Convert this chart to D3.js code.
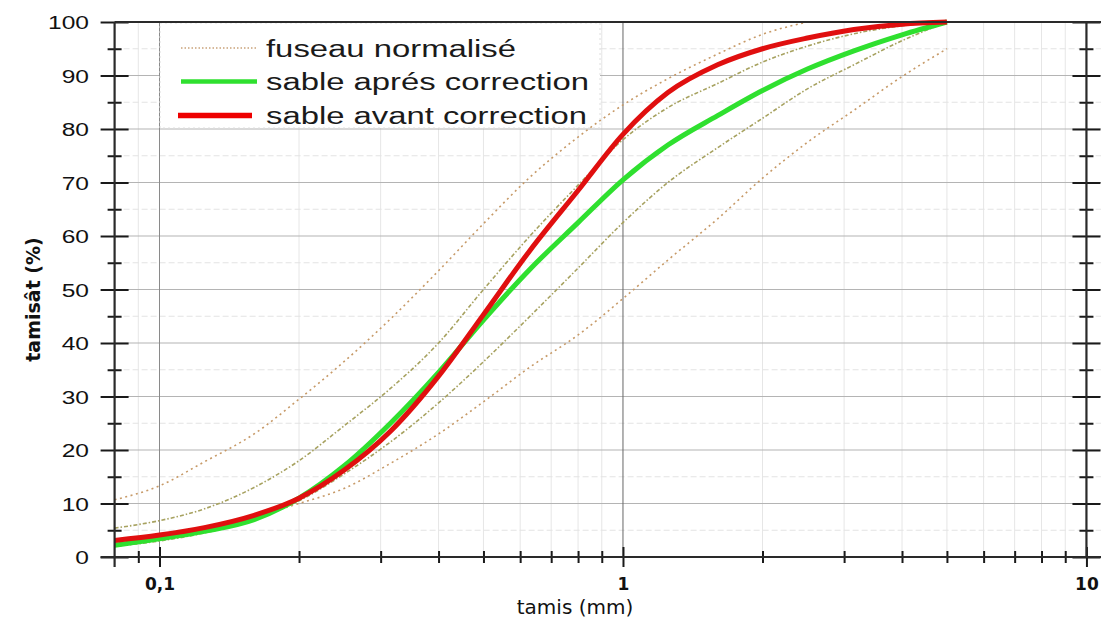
<!DOCTYPE html>
<html>
<head>
<meta charset="utf-8">
<script src="https://cdn.jsdelivr.net/npm/d3@7"></script>
<style>
  html, body { margin: 0; padding: 0; background: #fff; }
  svg { display: block; }
</style>
</head>
<body>
<div id="chart"></div>
<script>
// Sieve openings (mm)
const sieves = [0.08, 0.1, 0.125, 0.16, 0.2, 0.25, 0.315, 0.4, 0.5, 0.63, 0.8, 1, 1.25, 1.6, 2, 2.5, 3.15, 4, 5];

// Passing (%), one value per sieve (null = not drawn)
const sableAvant  = [3.1, 4.1, 5.5, 7.8, 11, 16.2, 23.5, 33.8, 45.3, 57.3, 68.5, 79, 86.8, 92, 95, 97, 98.6, 99.6, 100];
const sableApres  = [2.2, 3.4, 4.8, 7.0, 11, 17, 25, 34.5, 44.3, 53.8, 62.5, 70.5, 77, 82.5, 87.2, 91.2, 94.6, 97.6, 100];
const fuseauSup1  = [10.7, 13.3, 17.8, 23, 29.5, 36.5, 44.5, 53.5, 62.3, 71, 78.5, 84.5, 89.4, 94, 97.7, 100, null, null, null];
const fuseauSup2  = [5.4, 6.8, 9, 13, 18, 24.5, 31.5, 40, 50, 60, 69.5, 78, 84, 88.5, 92.5, 95.5, 97.8, 99.3, 100];
const fuseauInf1  = [2, 3, 4.5, 7, 10.5, 15.5, 21.5, 28.8, 36.5, 45, 54, 62.5, 70, 76.5, 82, 87.5, 92, 96.5, 100];
const fuseauInf2  = [null, null, null, 7.6, 10, 12.8, 17.5, 23, 29, 35.5, 41.5, 48.3, 55.5, 63.2, 70.8, 77.5, 83.5, 89.8, 95];

// Axis ticks and labels
const yMajor = d3.range(0, 101, 10);
const yMinor = d3.range(5, 100, 10);
const xMajor = [0.1, 1, 10];
const xMajorLabels = ["0,1", "1", "10"];
const xMinor = [0.09, 0.2, 0.3, 0.4, 0.5, 0.6, 0.7, 0.8, 0.9, 2, 3, 4, 5, 6, 7, 8, 9];

const legendLabels = ["fuseau normalisé", "sable aprés correction", "sable avant correction"];

// Dimensions
const width = 1105;
const height = 625;

const svg = d3.select("#chart")
    .append("svg")
    .attr("width", width)
    .attr("height", height);

// Scales
const xScale = d3.scaleLog()
    .domain([0.08, 10.75])
    .range([114.6, 1101]);

const yScale = d3.scaleLinear()
    .domain([0, 100])
    .range([557, 22]);

const [xLeft, xRight] = xScale.range();
const [yBottom, yTop] = yScale.range();

// Gridlines
const gGrid = svg.append("g").attr("class", "grid");

gGrid.selectAll("line.vminor")
    .data(xMinor)
    .join("line")
    .attr("class", "vminor")
    .attr("x1", d => xScale(d)).attr("x2", d => xScale(d))
    .attr("y1", yTop).attr("y2", yBottom)
    .attr("stroke", "#e6e6e6")
    .attr("stroke-width", 1);

gGrid.selectAll("line.hminor")
    .data(yMinor)
    .join("line")
    .attr("class", "hminor")
    .attr("x1", xLeft).attr("x2", xRight)
    .attr("y1", d => yScale(d)).attr("y2", d => yScale(d))
    .attr("stroke", "#e3e3e3")
    .attr("stroke-dasharray", "6,3")
    .attr("stroke-width", 1);

gGrid.selectAll("line.hmajor")
    .data(yMajor.slice(1, -1))
    .join("line")
    .attr("class", "hmajor")
    .attr("x1", xLeft).attr("x2", xRight)
    .attr("y1", d => yScale(d)).attr("y2", d => yScale(d))
    .attr("stroke", "#b4b4b4")
    .attr("stroke-width", 1.2);

gGrid.selectAll("line.vmajor")
    .data(xMajor.slice(0, 2))
    .join("line")
    .attr("class", "vmajor")
    .attr("x1", d => xScale(d)).attr("x2", d => xScale(d))
    .attr("y1", yTop).attr("y2", yBottom)
    .attr("stroke", (d, i) => i === 1 ? "#666" : "#8a8a8a")
    .attr("stroke-width", 1);

// Legend background
const gLegendBg = svg.append("g");
gLegendBg.append("rect")
    .attr("x", 160).attr("y", 23)
    .attr("width", 440).attr("height", 105)
    .attr("fill", "#fff")
    .attr("stroke", "#dedede")
    .attr("stroke-dasharray", "2,3");

// Line generator
const line = d3.line()
    .defined(d => d.v != null)
    .x(d => xScale(d.x))
    .y(d => yScale(d.v))
    .curve(d3.curveMonotoneX);

const toPoints = arr => sieves.map((x, i) => ({ x: x, v: arr[i] }));

const fuseau = [
    { id: "sup1", values: fuseauSup1, color: "#c79a68", dash: "2,3.5" },
    { id: "sup2", values: fuseauSup2, color: "#a7a260", dash: "4,2,1.5,2" },
    { id: "inf1", values: fuseauInf1, color: "#a7a260", dash: "4,2,1.5,2" },
    { id: "inf2", values: fuseauInf2, color: "#c79a68", dash: "2,3.5" }
];

const gChart = svg.append("g").attr("class", "chart");

gChart.selectAll("path.fuseau")
    .data(fuseau, d => d.id)
    .join("path")
    .attr("class", "fuseau")
    .attr("fill", "none")
    .attr("stroke", d => d.color)
    .attr("stroke-width", 1.6)
    .attr("stroke-dasharray", d => d.dash)
    .attr("d", d => line(toPoints(d.values)));

const sables = [
    { id: "apres", values: sableApres, color: "#2fe02f" },
    { id: "avant", values: sableAvant, color: "#e00f0f" }
];

gChart.selectAll("path.sable")
    .data(sables, d => d.id)
    .join("path")
    .attr("class", "sable")
    .attr("fill", "none")
    .attr("stroke", d => d.color)
    .attr("stroke-width", 5)
    .attr("stroke-linejoin", "round")
    .attr("d", d => line(toPoints(d.values)));

// Axes
const axisColor = "#1a1a1a";
const gAxes = svg.append("g").attr("class", "axes");

function crossTicks(g, attr, len) {
    g.select(".domain").remove();
    g.selectAll(".tick line")
        .attr(attr, len)
        .attr("stroke", axisColor)
        .attr("stroke-width", 2);
}

// stretch text horizontally (the reference is a wide picture)
function stretch(sel, sx) {
    sel.each(function () {
        const x = +this.getAttribute("x") || 0;
        d3.select(this).attr("transform", `translate(${x * (1 - sx)},0) scale(${sx},1)`);
    });
}

// left axis
const gYLeft = gAxes.append("g").attr("transform", `translate(${xLeft},0)`);
gYLeft.call(d3.axisLeft(yScale).tickValues(yMajor).tickSize(14).tickPadding(11.6));
crossTicks(gYLeft, "x1", 14);
gYLeft.selectAll("text")
    .attr("font-family", "'Liberation Sans', Arial, sans-serif")
    .attr("font-size", 18.6)
    .attr("fill", "#111")
    .attr("dy", "0.36em")
    .call(stretch, 1.32);

const gYLeftMinor = gAxes.append("g").attr("transform", `translate(${xLeft},0)`);
gYLeftMinor.call(d3.axisLeft(yScale).tickValues(yMinor).tickSize(7).tickFormat(""));
crossTicks(gYLeftMinor, "x1", 7);

// right axis (at 10 mm)
const gYRight = gAxes.append("g").attr("transform", `translate(${xScale(10)},0)`);
gYRight.call(d3.axisRight(yScale).tickValues(yMajor).tickSize(14).tickFormat(""));
crossTicks(gYRight, "x1", -14);

const gYRightMinor = gAxes.append("g").attr("transform", `translate(${xScale(10)},0)`);
gYRightMinor.call(d3.axisRight(yScale).tickValues(yMinor).tickSize(7).tickFormat(""));
crossTicks(gYRightMinor, "x1", -7);

// bottom axis
const gX = gAxes.append("g").attr("transform", `translate(0,${yBottom})`);
gX.call(d3.axisBottom(xScale)
    .tickValues(xMajor)
    .tickFormat((d, i) => xMajorLabels[i])
    .tickSize(10)
    .tickPadding(11));
crossTicks(gX, "y1", -10);
gX.selectAll("text")
    .attr("font-family", "'DejaVu Sans', sans-serif")
    .attr("font-weight", "bold")
    .attr("font-size", 17)
    .attr("fill", "#111");

const gXMinor = gAxes.append("g").attr("transform", `translate(0,${yBottom})`);
gXMinor.call(d3.axisBottom(xScale).tickValues(xMinor).tickSize(6).tickFormat(""));
crossTicks(gXMinor, "y1", -6);

// axis lines / frame
const frame = [
    { x1: xLeft, x2: xRight, y1: yTop, y2: yTop },
    { x1: xLeft - 14, x2: xRight, y1: yBottom, y2: yBottom },
    { x1: xLeft, x2: xLeft, y1: yTop, y2: yBottom + 10 },
    { x1: xScale(10), x2: xScale(10), y1: yTop, y2: yBottom }
];
gAxes.selectAll("line.frame")
    .data(frame)
    .join("line")
    .attr("class", "frame")
    .attr("x1", d => d.x1).attr("x2", d => d.x2)
    .attr("y1", d => d.y1).attr("y2", d => d.y2)
    .attr("stroke", "#2a2a2a")
    .attr("stroke-width", 2.2);

// Axis titles
svg.append("text")
    .attr("transform", `translate(40, ${(yTop + yBottom) / 2 + 10}) rotate(-90)`)
    .attr("text-anchor", "middle")
    .attr("font-family", "'DejaVu Sans', sans-serif")
    .attr("font-weight", "bold")
    .attr("font-size", 19)
    .attr("fill", "#111")
    .text("tamisât (%)");

svg.append("text")
    .attr("x", 575)
    .attr("y", 614)
    .attr("text-anchor", "middle")
    .attr("font-family", "'DejaVu Sans', sans-serif")
    .attr("font-size", 20)
    .attr("fill", "#111")
    .text("tamis (mm)");

// Legend
const legendItems = [
    { label: legendLabels[0], color: "#c9a27a", width: 1.6, dash: "1.5,2", x1: 181, x2: 257, y: 48, tw: 250 },
    { label: legendLabels[1], color: "#2fe02f", width: 4.5, dash: null, x1: 181, x2: 257, y: 81.5, tw: 323 },
    { label: legendLabels[2], color: "#ee0000", width: 5.5, dash: null, x1: 178, x2: 252, y: 115.5, tw: 321 }
];

const gLegend = svg.append("g").attr("class", "legend");

gLegend.selectAll("line")
    .data(legendItems)
    .join("line")
    .attr("x1", d => d.x1).attr("x2", d => d.x2)
    .attr("y1", d => d.y).attr("y2", d => d.y)
    .attr("stroke", d => d.color)
    .attr("stroke-width", d => d.width)
    .attr("stroke-dasharray", d => d.dash);

gLegend.selectAll("text")
    .data(legendItems)
    .join("text")
    .attr("x", 266)
    .attr("y", d => d.y + 8.5)
    .attr("font-family", "'Liberation Sans', Arial, sans-serif")
    .attr("font-size", 23)
    .attr("fill", "#1a1a1a")
    .attr("textLength", d => d.tw)
    .attr("lengthAdjust", "spacingAndGlyphs")
    .text(d => d.label);
</script>
</body>
</html>
